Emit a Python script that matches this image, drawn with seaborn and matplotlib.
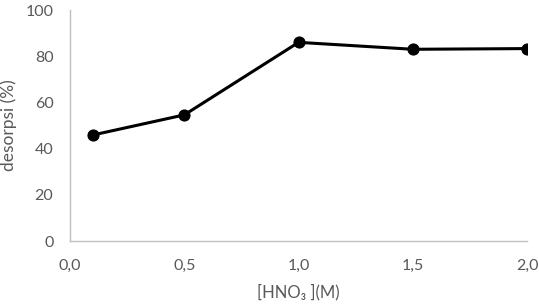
import matplotlib
matplotlib.use("Agg")
import matplotlib.pyplot as plt
import seaborn as sns
import pandas as pd

# data
hno3 = [0.1, 0.5, 1.0, 1.5, 2.0]
desorpsi = [45.9, 54.6, 86.0, 83.0, 83.3]
x_ticks = [0.0, 0.5, 1.0, 1.5, 2.0]
x_tick_labels = ["0,0", "0,5", "1,0", "1,5", "2,0"]
y_ticks = [0, 20, 40, 60, 80, 100]

sns.set_theme(style="white")
plt.rcParams["font.family"] = ["Lato", "DejaVu Sans"]

df = pd.DataFrame({"hno3": hno3, "desorpsi": desorpsi})
grey = "#595959"

fig = plt.figure(figsize=(5.39, 3.08), dpi=100)
ax = fig.add_axes([0.13, 0.2175, 0.848, 0.75])
sns.lineplot(data=df, x="hno3", y="desorpsi", color="black", linewidth=2.2,
             marker="o", markersize=8, markeredgecolor="black", ax=ax)

ax.set_xlim(0, 2.0)
ax.set_ylim(0, 100)
ax.set_xticks(x_ticks)
ax.set_xticklabels(x_tick_labels)
ax.set_yticks(y_ticks)
ax.tick_params(axis="x", colors=grey, labelsize=11.5, length=0, pad=13)
ax.tick_params(axis="y", colors=grey, labelsize=11.5, length=0, pad=12)
ax.set_xlabel("[HNO₃ ](M)", color=grey, fontsize=12, labelpad=8)
ax.set_ylabel("desorpsi (%)", color=grey, fontsize=12.5, labelpad=6)

for side in ["top", "right"]:
    ax.spines[side].set_visible(False)
for side in ["left", "bottom"]:
    ax.spines[side].set_color("#bfbfbf")
    ax.spines[side].set_linewidth(1)

fig.savefig("out.png", dpi=100)
plt.close(fig)
